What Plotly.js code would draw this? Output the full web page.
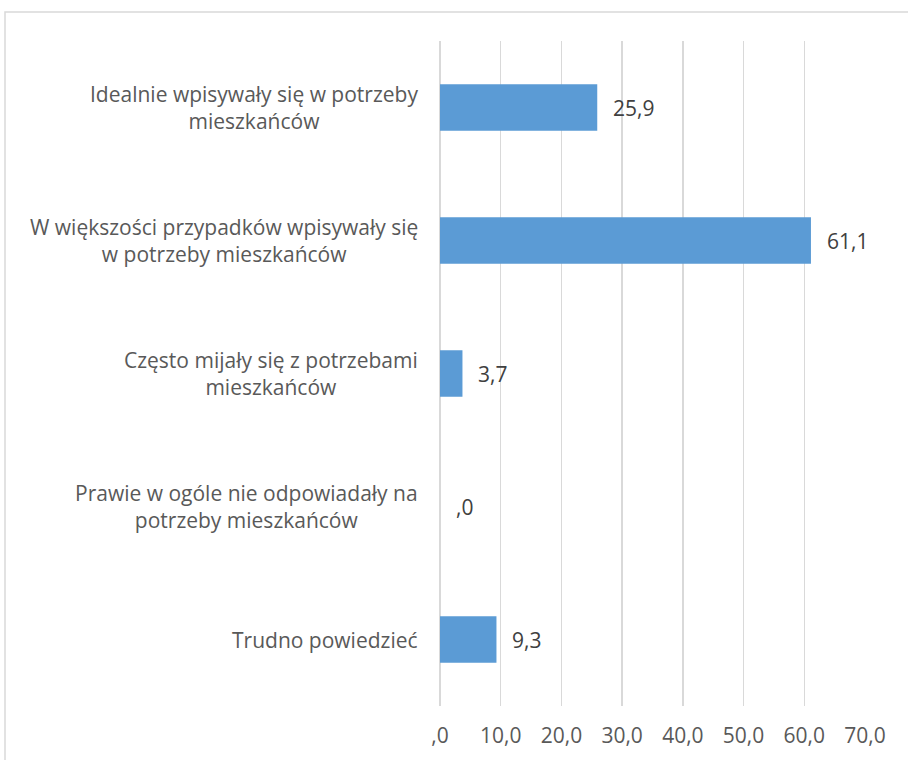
<!DOCTYPE html>
<html>
<head>
<meta charset="utf-8">
<script src="https://cdn.plot.ly/plotly-3.0.1.min.js"></script>
<style>
html,body{margin:0;padding:0;background:#fff;}
#chart{width:908px;height:760px;}
</style>
</head>
<body>
<div id="chart"></div>
<script>
// Data
const categories = [
  "Idealnie wpisywały się w potrzeby<br>mieszkańców",
  "W większości przypadków wpisywały się<br>w potrzeby mieszkańców",
  "Często mijały się z potrzebami<br>mieszkańców",
  "Prawie w ogóle nie odpowiadały na<br>potrzeby mieszkańców",
  "Trudno powiedzieć"
];
const values = [25.9, 61.1, 3.7, 0.0, 9.3];
const tickValues = [0, 10, 20, 30, 40, 50, 60, 70];

function fmt(v) {
  let s = v.toFixed(1).replace('.', ',');
  if (s.startsWith('0,')) s = s.slice(1);
  return s;
}

const FONT = '"Open Sans", Lato, sans-serif';
const FS = 21;
const W = 908, H = 760;
const L = 440, R = 43, T = 41, B = 54;
const pw = W - L - R, ph = H - T - B;
const px2x = p => (p - L) / pw;
const py2y = p => (H - B - p) / ph;

const trace = {
  type: 'bar',
  orientation: 'h',
  y: categories,
  x: values,
  marker: {color: '#5B9BD5'},
  width: 0.35,
  hoverinfo: 'skip'
};

const annotations = [];
categories.forEach((c, i) => {
  annotations.push({
    x: px2x(420), xref: 'paper', xanchor: 'right',
    y: c, yref: 'y', yanchor: 'middle',
    text: c, showarrow: false, align: 'center',
    font: {family: FONT, size: FS, color: '#595959'}
  });
  annotations.push({
    x: values[i], xref: 'x', xanchor: 'left', xshift: 14,
    y: c, yref: 'y', yanchor: 'middle',
    text: fmt(values[i]), showarrow: false,
    font: {family: FONT, size: FS, color: '#404040'}
  });
});

const layout = {
  width: W, height: H,
  margin: {l: L, r: R, t: T, b: B, pad: 0},
  paper_bgcolor: '#ffffff',
  plot_bgcolor: '#ffffff',
  showlegend: false,
  font: {family: FONT, size: FS, color: '#595959'},
  xaxis: {
    range: [0, 70],
    tickvals: tickValues,
    ticktext: tickValues.map(fmt),
    showgrid: true, gridcolor: '#d9d9d9', gridwidth: 1.5,
    zeroline: true, zerolinecolor: '#d9d9d9', zerolinewidth: 1.5,
    showline: false,
    ticks: 'outside', ticklen: 11, tickcolor: 'rgba(0,0,0,0)',
    tickfont: {family: FONT, size: FS, color: '#595959'},
    fixedrange: true
  },
  yaxis: {
    autorange: 'reversed',
    showticklabels: false,
    showgrid: false, zeroline: false, showline: false,
    ticks: '',
    fixedrange: true
  },
  annotations: annotations,
  shapes: [{
    type: 'rect', xref: 'paper', yref: 'paper',
    x0: px2x(5), x1: px2x(1200), y0: py2y(1200), y1: py2y(12),
    line: {color: '#d9d9d9', width: 1.5}, fillcolor: 'rgba(0,0,0,0)',
    layer: 'below'
  }]
};

Plotly.newPlot('chart', [trace], layout, {displayModeBar: false, staticPlot: true});
</script>
</body>
</html>
